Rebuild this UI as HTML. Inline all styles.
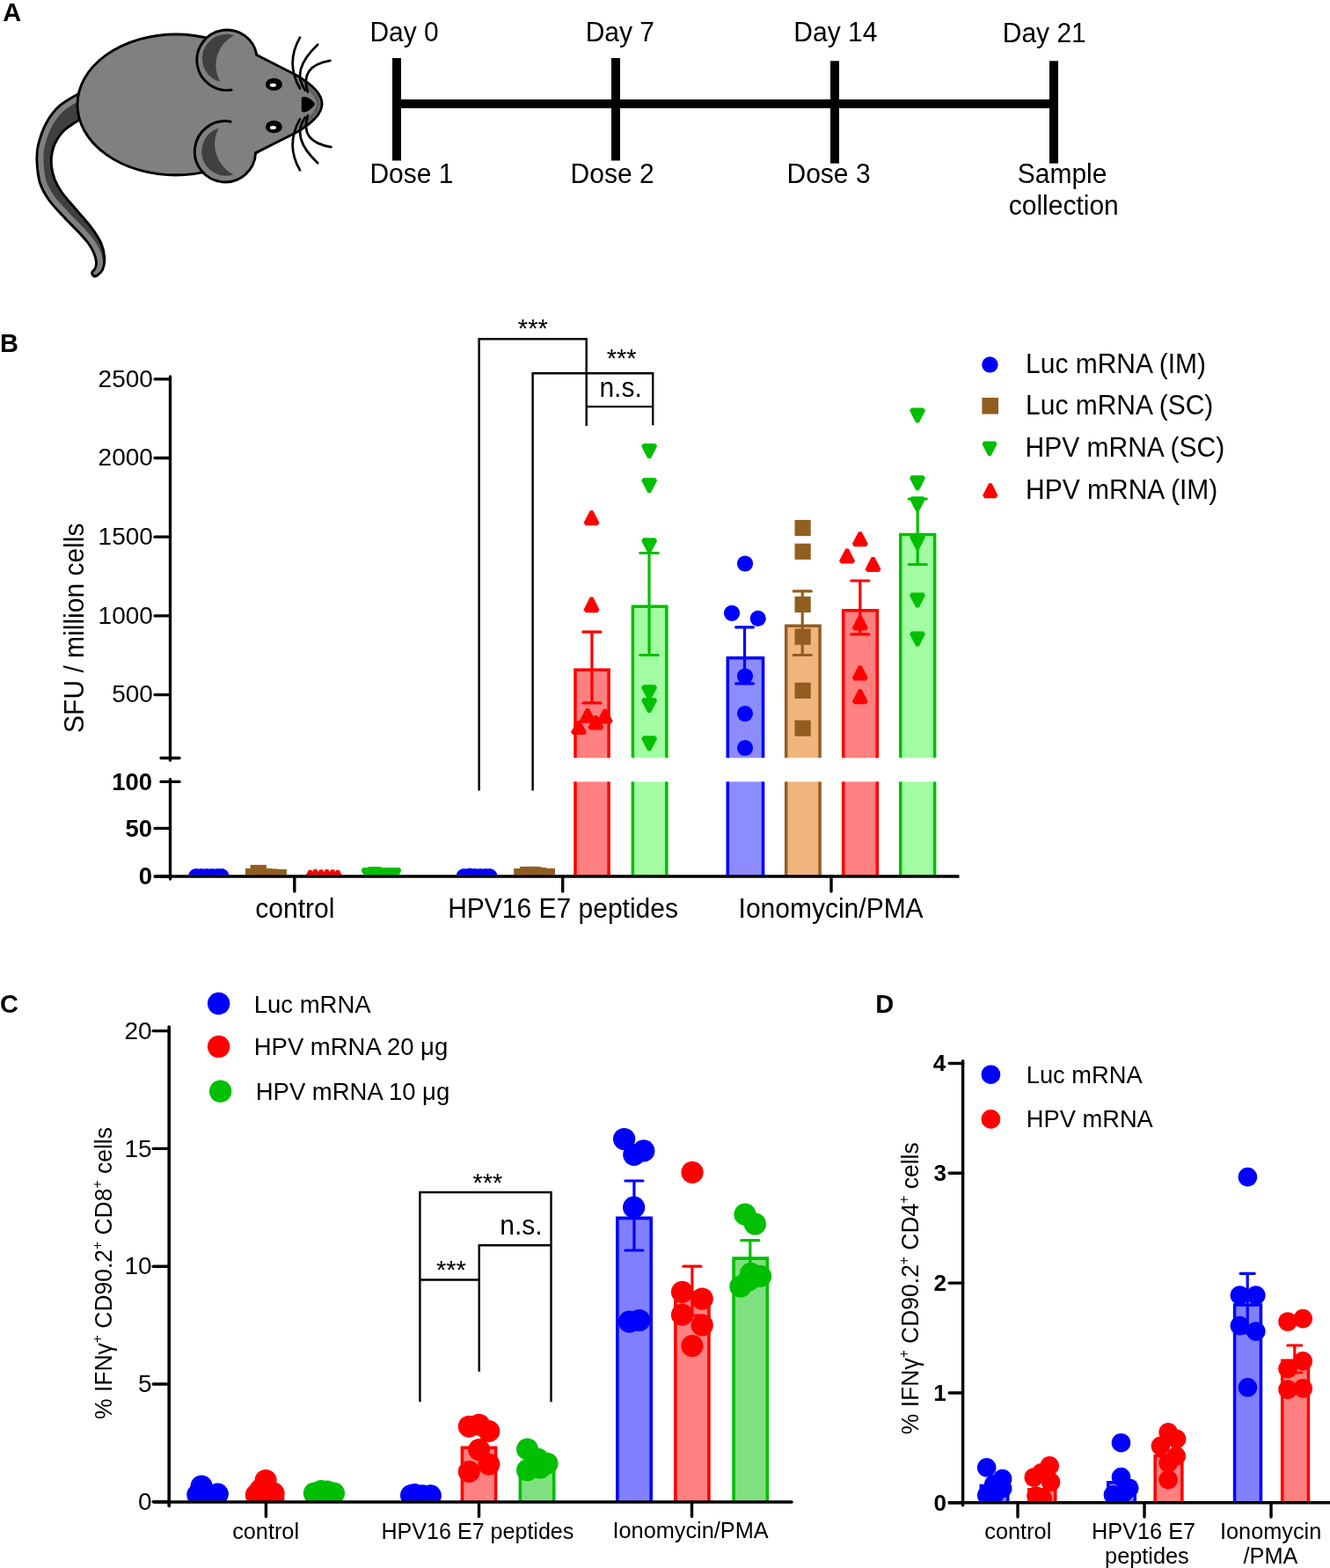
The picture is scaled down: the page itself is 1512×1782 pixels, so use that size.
<!DOCTYPE html>
<html><head><meta charset="utf-8"><style>
html,body{margin:0;padding:0;background:#fff;}
svg{display:block;}
text{font-family:"Liberation Sans", Arial, sans-serif;}
</style></head><body>
<svg width="1512" height="1782" viewBox="0 0 1512 1782">
<rect width="1512" height="1782" fill="#fff"/>
<text transform="matrix(1,0,0,1.015,0,-0.358)" x="3.28" y="23.90" font-size="29" font-weight="bold" fill="#000">A</text>
<g id="mouse">
<clipPath id="tclip"><path d="M92.00,105.00 C88.12,107.40 75.17,113.78 68.70,119.40 C62.23,125.02 57.40,131.18 53.20,138.70 C49.00,146.22 45.37,156.97 43.50,164.50 C41.63,172.03 41.67,176.65 42.00,183.90 C42.33,191.15 43.20,200.73 45.50,208.00 C47.80,215.27 51.28,221.08 55.80,227.50 C60.32,233.92 67.22,240.67 72.60,246.50 C77.98,252.33 83.53,257.58 88.10,262.50 C92.67,267.42 96.93,271.92 100.00,276.00 C103.07,280.08 104.92,283.33 106.50,287.00 C108.08,290.67 109.22,295.00 109.50,298.00 C109.78,301.00 109.02,303.03 108.20,305.00 C107.38,306.97 104.87,308.37 104.60,309.80 C104.33,311.23 105.62,313.07 106.60,313.60 C107.58,314.13 108.83,314.18 110.50,313.00 C112.17,311.82 115.22,309.85 116.60,306.50 C117.98,303.15 119.10,297.97 118.80,292.90 C118.50,287.83 117.33,281.87 114.80,276.10 C112.27,270.33 108.23,264.55 103.60,258.30 C98.97,252.05 92.52,245.15 87.00,238.60 C81.48,232.05 74.63,224.77 70.50,219.00 C66.37,213.23 64.17,208.83 62.20,204.00 C60.23,199.17 59.30,194.43 58.70,190.00 C58.10,185.57 58.00,181.82 58.60,177.40 C59.20,172.98 59.97,168.32 62.30,163.50 C64.63,158.68 67.65,153.25 72.60,148.50 C77.55,143.75 88.77,137.25 92.00,135.00 Z"/></clipPath>
<path d="M92.00,105.00 C88.12,107.40 75.17,113.78 68.70,119.40 C62.23,125.02 57.40,131.18 53.20,138.70 C49.00,146.22 45.37,156.97 43.50,164.50 C41.63,172.03 41.67,176.65 42.00,183.90 C42.33,191.15 43.20,200.73 45.50,208.00 C47.80,215.27 51.28,221.08 55.80,227.50 C60.32,233.92 67.22,240.67 72.60,246.50 C77.98,252.33 83.53,257.58 88.10,262.50 C92.67,267.42 96.93,271.92 100.00,276.00 C103.07,280.08 104.92,283.33 106.50,287.00 C108.08,290.67 109.22,295.00 109.50,298.00 C109.78,301.00 109.02,303.03 108.20,305.00 C107.38,306.97 104.87,308.37 104.60,309.80 C104.33,311.23 105.62,313.07 106.60,313.60 C107.58,314.13 108.83,314.18 110.50,313.00 C112.17,311.82 115.22,309.85 116.60,306.50 C117.98,303.15 119.10,297.97 118.80,292.90 C118.50,287.83 117.33,281.87 114.80,276.10 C112.27,270.33 108.23,264.55 103.60,258.30 C98.97,252.05 92.52,245.15 87.00,238.60 C81.48,232.05 74.63,224.77 70.50,219.00 C66.37,213.23 64.17,208.83 62.20,204.00 C60.23,199.17 59.30,194.43 58.70,190.00 C58.10,185.57 58.00,181.82 58.60,177.40 C59.20,172.98 59.97,168.32 62.30,163.50 C64.63,158.68 67.65,153.25 72.60,148.50 C77.55,143.75 88.77,137.25 92.00,135.00 Z" fill="#404040"/>
<path d="M92.00,105.00 C88.12,107.40 75.17,113.78 68.70,119.40 C62.23,125.02 57.40,131.18 53.20,138.70 C49.00,146.22 45.37,156.97 43.50,164.50 C41.63,172.03 41.67,176.65 42.00,183.90 C42.33,191.15 43.20,200.73 45.50,208.00 C47.80,215.27 51.28,221.08 55.80,227.50 C60.32,233.92 67.22,240.67 72.60,246.50 C77.98,252.33 83.53,257.58 88.10,262.50 C92.67,267.42 96.93,271.92 100.00,276.00 C103.07,280.08 104.92,283.33 106.50,287.00 C108.08,290.67 109.22,295.00 109.50,298.00 C109.78,301.00 109.02,303.03 108.20,305.00 C107.38,306.97 105.20,309.00 104.60,309.80" fill="none" stroke="#808080" stroke-width="15" clip-path="url(#tclip)"/>
<path d="M92.00,105.00 C88.12,107.40 75.17,113.78 68.70,119.40 C62.23,125.02 57.40,131.18 53.20,138.70 C49.00,146.22 45.37,156.97 43.50,164.50 C41.63,172.03 41.67,176.65 42.00,183.90 C42.33,191.15 43.20,200.73 45.50,208.00 C47.80,215.27 51.28,221.08 55.80,227.50 C60.32,233.92 67.22,240.67 72.60,246.50 C77.98,252.33 83.53,257.58 88.10,262.50 C92.67,267.42 96.93,271.92 100.00,276.00 C103.07,280.08 104.92,283.33 106.50,287.00 C108.08,290.67 109.22,295.00 109.50,298.00 C109.78,301.00 109.02,303.03 108.20,305.00 C107.38,306.97 104.87,308.37 104.60,309.80 C104.33,311.23 105.62,313.07 106.60,313.60 C107.58,314.13 108.83,314.18 110.50,313.00 C112.17,311.82 115.22,309.85 116.60,306.50 C117.98,303.15 119.10,297.97 118.80,292.90 C118.50,287.83 117.33,281.87 114.80,276.10 C112.27,270.33 108.23,264.55 103.60,258.30 C98.97,252.05 92.52,245.15 87.00,238.60 C81.48,232.05 74.63,224.77 70.50,219.00 C66.37,213.23 64.17,208.83 62.20,204.00 C60.23,199.17 59.30,194.43 58.70,190.00 C58.10,185.57 58.00,181.82 58.60,177.40 C59.20,172.98 59.97,168.32 62.30,163.50 C64.63,158.68 67.65,153.25 72.60,148.50 C77.55,143.75 88.77,137.25 92.00,135.00 Z" fill="none" stroke="#000" stroke-width="2.9" stroke-linejoin="round"/>
<ellipse cx="200" cy="119" rx="112" ry="80" fill="#808080" stroke="#000" stroke-width="2.9"/>
<path d="M255,62 L292.5,63.3 L336,85 C350,93 366,105 366,118 C366,131 350,143 336,151 L291.5,175.5 L255,176 Z" fill="#808080"/>
<path d="M343,93.5 C353,100 361.5,110 361.7,118 C361.5,126 353,136 343,142.5" fill="none" stroke="#5e5e5e" stroke-width="4"/>
<circle cx="258" cy="68.2" r="34.2" fill="#808080"/>
<path d="M266,40.2 A27.60,27.60 0 1,0 250.30,93.10 A38.42,38.42 0 0,1 266.00,40.20 Z" fill="#404040"/>
<path d="M263,102.2 A34.29,34.29 0 1,1 291.90,62.50" fill="none" stroke="#000" stroke-width="2.9" stroke-linecap="round"/>
<circle cx="255.5" cy="172.3" r="34.2" fill="#808080"/>
<path d="M265.5,198.5 A27.81,27.81 0 1,1 248.60,145.50 A39.02,39.02 0 0,0 265.50,198.50 Z" fill="#404040"/>
<path d="M262.2,138.2 A34.66,34.66 0 1,0 290.60,173.70" fill="none" stroke="#000" stroke-width="2.9" stroke-linecap="round"/>
<path d="M291.9,62.5 L336,85 C350,93 366,105 366,118 C366,131 350,143 336,151 L290.6,173.7" fill="none" stroke="#000" stroke-width="2.9" stroke-linejoin="round" stroke-linecap="round"/>
<ellipse cx="311.4" cy="95.9" rx="9.5" ry="7.2" fill="#000"/>
<ellipse cx="310.4" cy="96.7" rx="3.6" ry="2.0" fill="#fff"/>
<ellipse cx="311.4" cy="144.1" rx="9.5" ry="7.2" fill="#000"/>
<ellipse cx="310.4" cy="144.9" rx="3.6" ry="2.0" fill="#fff"/>
<path d="M342.8,112 C342.8,110.5 344,110 345.5,110 C350,110 354,113 356.8,116 C358.2,117.5 358.2,119 356.8,120.5 C354,123.5 350,127.4 345.5,127.4 C344,127.4 342.8,126.9 342.8,125.4 Z" fill="#000"/>
<path d="M341,42.6 Q324.3,71.4 341,100.7" fill="none" stroke="#000" stroke-width="2.7" stroke-linecap="round"/>
<path d="M361.2,50.7 Q330,80 347,102.7" fill="none" stroke="#000" stroke-width="2.7" stroke-linecap="round"/>
<path d="M375.4,68.9 Q340,75 350,104.7" fill="none" stroke="#000" stroke-width="2.7" stroke-linecap="round"/>
<path d="M341,193.4 Q324.3,164.6 341,135.3" fill="none" stroke="#000" stroke-width="2.7" stroke-linecap="round"/>
<path d="M361.2,185.3 Q330,156 347,133.3" fill="none" stroke="#000" stroke-width="2.7" stroke-linecap="round"/>
<path d="M376.4,167.1 Q340,161 350,131.3" fill="none" stroke="#000" stroke-width="2.7" stroke-linecap="round"/>
</g>
<rect x="446" y="113" width="757" height="10" fill="#000"/>
<rect x="446" y="66" width="10" height="116.5" fill="#000"/>
<rect x="695" y="66" width="10" height="116.5" fill="#000"/>
<rect x="944" y="69.3" width="10" height="116.39999999999999" fill="#000"/>
<rect x="1193" y="69.3" width="10" height="116.39999999999999" fill="#000"/>
<text transform="matrix(1,0,0,1.015,0,-0.708)" x="420.44" y="47.20" font-size="30" fill="#000">Day 0</text>
<text transform="matrix(1,0,0,1.015,0,-0.711)" x="665.64" y="47.40" font-size="30" fill="#000">Day 7</text>
<text transform="matrix(1,0,0,1.015,0,-0.711)" x="902.34" y="47.40" font-size="30" fill="#000">Day 14</text>
<text transform="matrix(1,0,0,1.015,0,-0.714)" x="1139.74" y="47.60" font-size="30" fill="#000">Day 21</text>
<text transform="matrix(1,0,0,1.015,0,-3.118)" x="420.44" y="207.90" font-size="30" fill="#000">Dose 1</text>
<text transform="matrix(1,0,0,1.015,0,-3.121)" x="648.54" y="208.10" font-size="30" fill="#000">Dose 2</text>
<text transform="matrix(1,0,0,1.015,0,-3.121)" x="894.54" y="208.10" font-size="30" fill="#000">Dose 3</text>
<text transform="matrix(1,0,0,1.015,0,-3.120)" x="1156.74" y="208.00" font-size="30" fill="#000">Sample</text>
<text transform="matrix(1,0,0,1.015,0,-3.664)" x="1146.73" y="244.30" font-size="30" fill="#000">collection</text>
<text transform="matrix(1,0,0,1.015,0,-6.003)" x="0.06" y="400.20" font-size="29" font-weight="bold" fill="#000">B</text>
<line x1="193.50" y1="427.80" x2="193.50" y2="864.20" stroke="#000" stroke-width="3.3" stroke-linecap="round"/>
<line x1="176.00" y1="430.80" x2="193.50" y2="430.80" stroke="#000" stroke-width="3.3" stroke-linecap="round"/>
<text transform="matrix(1,0,0,1.015,0,-6.595)" x="111.60" y="439.70" font-size="28" fill="#000">2500</text>
<line x1="176.00" y1="520.50" x2="193.50" y2="520.50" stroke="#000" stroke-width="3.3" stroke-linecap="round"/>
<text transform="matrix(1,0,0,1.015,0,-7.941)" x="111.60" y="529.40" font-size="28" fill="#000">2000</text>
<line x1="176.00" y1="610.20" x2="193.50" y2="610.20" stroke="#000" stroke-width="3.3" stroke-linecap="round"/>
<text transform="matrix(1,0,0,1.015,0,-9.286)" x="111.60" y="619.10" font-size="28" fill="#000">1500</text>
<line x1="176.00" y1="699.90" x2="193.50" y2="699.90" stroke="#000" stroke-width="3.3" stroke-linecap="round"/>
<text transform="matrix(1,0,0,1.015,0,-10.632)" x="111.60" y="708.80" font-size="28" fill="#000">1000</text>
<line x1="176.00" y1="789.60" x2="193.50" y2="789.60" stroke="#000" stroke-width="3.3" stroke-linecap="round"/>
<text transform="matrix(1,0,0,1.015,0,-11.977)" x="127.18" y="798.50" font-size="28" fill="#000">500</text>
<line x1="183.00" y1="861.50" x2="204.00" y2="861.50" stroke="#000" stroke-width="3.3" stroke-linecap="round"/>
<line x1="193.50" y1="885.60" x2="193.50" y2="999.00" stroke="#000" stroke-width="3.3" stroke-linecap="round"/>
<line x1="183.00" y1="888.40" x2="204.00" y2="888.40" stroke="#000" stroke-width="3.3" stroke-linecap="round"/>
<text transform="matrix(1,0,0,1.015,0,-13.465)" x="127.25" y="897.70" font-size="27.5" font-weight="bold" fill="#000">100</text>
<line x1="176.00" y1="941.40" x2="193.50" y2="941.40" stroke="#000" stroke-width="3.3" stroke-linecap="round"/>
<text transform="matrix(1,0,0,1.015,0,-14.260)" x="142.54" y="950.70" font-size="27.5" font-weight="bold" fill="#000">50</text>
<line x1="176.00" y1="996.00" x2="193.50" y2="996.00" stroke="#000" stroke-width="3.3" stroke-linecap="round"/>
<text transform="matrix(1,0,0,1.015,0,-15.079)" x="157.83" y="1005.30" font-size="27.5" font-weight="bold" fill="#000">0</text>
<text transform="translate(95.2,713.75) rotate(-90) scale(1,1.015)" x="0" y="0" font-size="30" text-anchor="middle">SFU / million cells</text>
<rect x="653.95" y="761.15" width="38.10" height="100.15" fill="#FF8080"/>
<path d="M653.95,861.3 V761.15 H692.05 V861.3" stroke="#FF0000" stroke-width="3.5" fill="none" stroke-linecap="butt" stroke-linejoin="miter"/>
<rect x="653.95" y="888.4" width="38.10" height="107.60" fill="#FF8080"/>
<line x1="653.95" y1="888.40" x2="653.95" y2="996.00" stroke="#FF0000" stroke-width="3.5" stroke-linecap="butt"/>
<line x1="692.05" y1="888.40" x2="692.05" y2="996.00" stroke="#FF0000" stroke-width="3.5" stroke-linecap="butt"/>
<rect x="719.35" y="689.15" width="38.50" height="172.15" fill="#A2FDA2"/>
<path d="M719.35,861.3 V689.15 H757.85 V861.3" stroke="#00BF00" stroke-width="3.5" fill="none" stroke-linecap="butt" stroke-linejoin="miter"/>
<rect x="719.35" y="888.4" width="38.50" height="107.60" fill="#A2FDA2"/>
<line x1="719.35" y1="888.40" x2="719.35" y2="996.00" stroke="#00BF00" stroke-width="3.5" stroke-linecap="butt"/>
<line x1="757.85" y1="888.40" x2="757.85" y2="996.00" stroke="#00BF00" stroke-width="3.5" stroke-linecap="butt"/>
<rect x="827.25" y="747.75" width="40.30" height="113.55" fill="#8C8CFF"/>
<path d="M827.25,861.3 V747.75 H867.55 V861.3" stroke="#0000FF" stroke-width="3.5" fill="none" stroke-linecap="butt" stroke-linejoin="miter"/>
<rect x="827.25" y="888.4" width="40.30" height="107.60" fill="#8C8CFF"/>
<line x1="827.25" y1="888.40" x2="827.25" y2="996.00" stroke="#0000FF" stroke-width="3.5" stroke-linecap="butt"/>
<line x1="867.55" y1="888.40" x2="867.55" y2="996.00" stroke="#0000FF" stroke-width="3.5" stroke-linecap="butt"/>
<rect x="893.65" y="711.35" width="38.40" height="149.95" fill="#F0B57D"/>
<path d="M893.65,861.3 V711.35 H932.05 V861.3" stroke="#915E20" stroke-width="3.5" fill="none" stroke-linecap="butt" stroke-linejoin="miter"/>
<rect x="893.65" y="888.4" width="38.40" height="107.60" fill="#F0B57D"/>
<line x1="893.65" y1="888.40" x2="893.65" y2="996.00" stroke="#915E20" stroke-width="3.5" stroke-linecap="butt"/>
<line x1="932.05" y1="888.40" x2="932.05" y2="996.00" stroke="#915E20" stroke-width="3.5" stroke-linecap="butt"/>
<rect x="958.65" y="693.75" width="38.60" height="167.55" fill="#FF8080"/>
<path d="M958.65,861.3 V693.75 H997.25 V861.3" stroke="#FF0000" stroke-width="3.5" fill="none" stroke-linecap="butt" stroke-linejoin="miter"/>
<rect x="958.65" y="888.4" width="38.60" height="107.60" fill="#FF8080"/>
<line x1="958.65" y1="888.40" x2="958.65" y2="996.00" stroke="#FF0000" stroke-width="3.5" stroke-linecap="butt"/>
<line x1="997.25" y1="888.40" x2="997.25" y2="996.00" stroke="#FF0000" stroke-width="3.5" stroke-linecap="butt"/>
<rect x="1023.75" y="607.45" width="38.90" height="253.85" fill="#A2FDA2"/>
<path d="M1023.75,861.3 V607.45 H1062.65 V861.3" stroke="#00BF00" stroke-width="3.5" fill="none" stroke-linecap="butt" stroke-linejoin="miter"/>
<rect x="1023.75" y="888.4" width="38.90" height="107.60" fill="#A2FDA2"/>
<line x1="1023.75" y1="888.40" x2="1023.75" y2="996.00" stroke="#00BF00" stroke-width="3.5" stroke-linecap="butt"/>
<line x1="1062.65" y1="888.40" x2="1062.65" y2="996.00" stroke="#00BF00" stroke-width="3.5" stroke-linecap="butt"/>
<line x1="672.90" y1="718.20" x2="672.90" y2="798.90" stroke="#FF0000" stroke-width="3.2" stroke-linecap="butt"/>
<line x1="662.90" y1="718.20" x2="682.90" y2="718.20" stroke="#FF0000" stroke-width="3.2" stroke-linecap="round"/>
<line x1="662.90" y1="798.90" x2="682.90" y2="798.90" stroke="#FF0000" stroke-width="3.2" stroke-linecap="round"/>
<line x1="738.00" y1="628.50" x2="738.00" y2="744.50" stroke="#00BF00" stroke-width="3.2" stroke-linecap="butt"/>
<line x1="727.75" y1="628.50" x2="748.25" y2="628.50" stroke="#00BF00" stroke-width="3.2" stroke-linecap="round"/>
<line x1="727.75" y1="744.50" x2="748.25" y2="744.50" stroke="#00BF00" stroke-width="3.2" stroke-linecap="round"/>
<line x1="846.50" y1="712.80" x2="846.50" y2="776.80" stroke="#0000FF" stroke-width="3.2" stroke-linecap="butt"/>
<line x1="836.50" y1="712.80" x2="856.50" y2="712.80" stroke="#0000FF" stroke-width="3.2" stroke-linecap="round"/>
<line x1="836.50" y1="776.80" x2="856.50" y2="776.80" stroke="#0000FF" stroke-width="3.2" stroke-linecap="round"/>
<line x1="912.20" y1="671.90" x2="912.20" y2="744.50" stroke="#915E20" stroke-width="3.2" stroke-linecap="butt"/>
<line x1="902.20" y1="671.90" x2="922.20" y2="671.90" stroke="#915E20" stroke-width="3.2" stroke-linecap="round"/>
<line x1="902.20" y1="744.50" x2="922.20" y2="744.50" stroke="#915E20" stroke-width="3.2" stroke-linecap="round"/>
<line x1="977.80" y1="660.00" x2="977.80" y2="720.80" stroke="#FF0000" stroke-width="3.2" stroke-linecap="butt"/>
<line x1="967.80" y1="660.00" x2="987.80" y2="660.00" stroke="#FF0000" stroke-width="3.2" stroke-linecap="round"/>
<line x1="967.80" y1="720.80" x2="987.80" y2="720.80" stroke="#FF0000" stroke-width="3.2" stroke-linecap="round"/>
<line x1="1043.20" y1="567.00" x2="1043.20" y2="641.50" stroke="#00BF00" stroke-width="3.2" stroke-linecap="butt"/>
<line x1="1033.20" y1="567.00" x2="1053.20" y2="567.00" stroke="#00BF00" stroke-width="3.2" stroke-linecap="round"/>
<line x1="1033.20" y1="641.50" x2="1053.20" y2="641.50" stroke="#00BF00" stroke-width="3.2" stroke-linecap="round"/>
<clipPath id="clipB"><rect x="196" y="300" width="1000" height="694.3"/></clipPath>
<g clip-path="url(#clipB)">
<circle cx="223.00" cy="996.00" r="9" fill="#0000FF"/>
<circle cx="229.00" cy="996.00" r="9" fill="#0000FF"/>
<circle cx="235.00" cy="996.00" r="9" fill="#0000FF"/>
<circle cx="241.00" cy="996.00" r="9" fill="#0000FF"/>
<circle cx="247.00" cy="996.00" r="9" fill="#0000FF"/>
<circle cx="251.70" cy="996.00" r="9" fill="#0000FF"/>
<rect x="284.60" y="982.90" width="18.2" height="18.2" fill="#915E20"/>
<rect x="278.90" y="986.90" width="18.2" height="18.2" fill="#915E20"/>
<rect x="290.90" y="986.90" width="18.2" height="18.2" fill="#915E20"/>
<rect x="296.90" y="987.40" width="18.2" height="18.2" fill="#915E20"/>
<rect x="302.90" y="987.90" width="18.2" height="18.2" fill="#915E20"/>
<rect x="307.70" y="987.90" width="18.2" height="18.2" fill="#915E20"/>
<path d="M350.75,988.80 L354.25,988.80 L361.50,1002.69 L359.30,1005.80 L345.70,1005.80 L343.50,1002.69 Z" fill="#FF0000"/>
<path d="M356.75,987.80 L360.25,987.80 L367.50,1001.69 L365.30,1004.80 L351.70,1004.80 L349.50,1001.69 Z" fill="#FF0000"/>
<path d="M363.25,988.30 L366.75,988.30 L374.00,1002.19 L371.80,1005.30 L358.20,1005.30 L356.00,1002.19 Z" fill="#FF0000"/>
<path d="M369.75,987.90 L373.25,987.90 L380.50,1001.79 L378.30,1004.90 L364.70,1004.90 L362.50,1001.79 Z" fill="#FF0000"/>
<path d="M376.25,988.20 L379.75,988.20 L387.00,1002.09 L384.80,1005.20 L371.20,1005.20 L369.00,1002.09 Z" fill="#FF0000"/>
<path d="M382.25,988.80 L385.75,988.80 L393.00,1002.69 L390.80,1005.80 L377.20,1005.80 L375.00,1002.69 Z" fill="#FF0000"/>
<path d="M417.75,1003.00 L421.25,1003.00 L428.50,989.11 L426.30,986.00 L412.70,986.00 L410.50,989.11 Z" fill="#00BF00"/>
<path d="M424.25,1002.00 L427.75,1002.00 L435.00,988.11 L432.80,985.00 L419.20,985.00 L417.00,988.11 Z" fill="#00BF00"/>
<path d="M430.25,1003.00 L433.75,1003.00 L441.00,989.11 L438.80,986.00 L425.20,986.00 L423.00,989.11 Z" fill="#00BF00"/>
<path d="M436.25,1003.00 L439.75,1003.00 L447.00,989.11 L444.80,986.00 L431.20,986.00 L429.00,989.11 Z" fill="#00BF00"/>
<path d="M442.25,1003.00 L445.75,1003.00 L453.00,989.11 L450.80,986.00 L437.20,986.00 L435.00,989.11 Z" fill="#00BF00"/>
<path d="M445.75,1003.00 L449.25,1003.00 L456.50,989.11 L454.30,986.00 L440.70,986.00 L438.50,989.11 Z" fill="#00BF00"/>
<circle cx="527.50" cy="996.00" r="9" fill="#0000FF"/>
<circle cx="534.00" cy="995.50" r="9" fill="#0000FF"/>
<circle cx="540.00" cy="996.00" r="9" fill="#0000FF"/>
<circle cx="546.00" cy="996.00" r="9" fill="#0000FF"/>
<circle cx="552.00" cy="996.00" r="9" fill="#0000FF"/>
<circle cx="556.60" cy="996.00" r="9" fill="#0000FF"/>
<rect x="584.10" y="986.90" width="18.2" height="18.2" fill="#915E20"/>
<rect x="590.90" y="984.90" width="18.2" height="18.2" fill="#915E20"/>
<rect x="596.90" y="984.90" width="18.2" height="18.2" fill="#915E20"/>
<rect x="602.90" y="985.90" width="18.2" height="18.2" fill="#915E20"/>
<rect x="608.90" y="986.90" width="18.2" height="18.2" fill="#915E20"/>
<rect x="612.80" y="986.90" width="18.2" height="18.2" fill="#915E20"/>
<path d="M670.75,580.20 L674.25,580.20 L681.50,594.17 L679.30,597.30 L665.70,597.30 L663.50,594.17 Z" fill="#FF0000"/>
<path d="M670.75,678.60 L674.25,678.60 L681.50,693.06 L679.30,696.30 L665.70,696.30 L663.50,693.06 Z" fill="#FF0000"/>
<path d="M666.15,804.90 L669.65,804.90 L676.90,818.63 L674.70,821.70 L661.10,821.70 L658.90,818.63 Z" fill="#FF0000"/>
<path d="M685.95,805.80 L689.45,805.80 L696.70,819.53 L694.50,822.60 L680.90,822.60 L678.70,819.53 Z" fill="#FF0000"/>
<path d="M675.65,813.10 L679.15,813.10 L686.40,826.42 L684.20,829.40 L670.60,829.40 L668.40,826.42 Z" fill="#FF0000"/>
<path d="M656.25,819.10 L659.75,819.10 L667.00,832.09 L664.80,835.00 L651.20,835.00 L649.00,832.09 Z" fill="#FF0000"/>
<path d="M736.35,520.90 L739.85,520.90 L747.10,507.01 L744.90,503.90 L731.30,503.90 L729.10,507.01 Z" fill="#00BF00"/>
<path d="M736.35,560.00 L739.85,560.00 L747.10,546.11 L744.90,543.00 L731.30,543.00 L729.10,546.11 Z" fill="#00BF00"/>
<path d="M736.35,628.30 L739.85,628.30 L747.10,614.41 L744.90,611.30 L731.30,611.30 L729.10,614.41 Z" fill="#00BF00"/>
<path d="M736.35,795.30 L739.85,795.30 L747.10,781.41 L744.90,778.30 L731.30,778.30 L729.10,781.41 Z" fill="#00BF00"/>
<path d="M736.35,809.90 L739.85,809.90 L747.10,796.01 L744.90,792.90 L731.30,792.90 L729.10,796.01 Z" fill="#00BF00"/>
<path d="M736.35,853.30 L739.85,853.30 L747.10,839.41 L744.90,836.30 L731.30,836.30 L729.10,839.41 Z" fill="#00BF00"/>
<circle cx="847.00" cy="640.50" r="9.1" fill="#0000FF"/>
<circle cx="832.00" cy="696.80" r="9.1" fill="#0000FF"/>
<circle cx="861.70" cy="702.90" r="9.1" fill="#0000FF"/>
<circle cx="847.00" cy="768.50" r="9.1" fill="#0000FF"/>
<circle cx="847.00" cy="811.00" r="9.1" fill="#0000FF"/>
<circle cx="847.00" cy="850.00" r="9.1" fill="#0000FF"/>
<rect x="903.50" y="590.90" width="18.2" height="18.2" fill="#915E20"/>
<rect x="903.50" y="617.70" width="18.2" height="18.2" fill="#915E20"/>
<rect x="903.50" y="677.90" width="18.2" height="18.2" fill="#915E20"/>
<rect x="903.50" y="714.60" width="18.2" height="18.2" fill="#915E20"/>
<rect x="903.50" y="775.70" width="18.2" height="18.2" fill="#915E20"/>
<rect x="903.50" y="818.50" width="18.2" height="18.2" fill="#915E20"/>
<path d="M976.05,604.20 L979.55,604.20 L986.80,618.09 L984.60,621.20 L971.00,621.20 L968.80,618.09 Z" fill="#FF0000"/>
<path d="M961.25,623.50 L964.75,623.50 L972.00,637.39 L969.80,640.50 L956.20,640.50 L954.00,637.39 Z" fill="#FF0000"/>
<path d="M990.75,633.00 L994.25,633.00 L1001.50,646.89 L999.30,650.00 L985.70,650.00 L983.50,646.89 Z" fill="#FF0000"/>
<path d="M976.05,699.50 L979.55,699.50 L986.80,713.39 L984.60,716.50 L971.00,716.50 L968.80,713.39 Z" fill="#FF0000"/>
<path d="M976.05,756.50 L979.55,756.50 L986.80,770.39 L984.60,773.50 L971.00,773.50 L968.80,770.39 Z" fill="#FF0000"/>
<path d="M976.05,783.30 L979.55,783.30 L986.80,797.19 L984.60,800.30 L971.00,800.30 L968.80,797.19 Z" fill="#FF0000"/>
<path d="M1041.25,480.50 L1044.75,480.50 L1052.00,466.61 L1049.80,463.50 L1036.20,463.50 L1034.00,466.61 Z" fill="#00BF00"/>
<path d="M1041.25,557.20 L1044.75,557.20 L1052.00,543.31 L1049.80,540.20 L1036.20,540.20 L1034.00,543.31 Z" fill="#00BF00"/>
<path d="M1041.25,581.20 L1044.75,581.20 L1052.00,567.31 L1049.80,564.20 L1036.20,564.20 L1034.00,567.31 Z" fill="#00BF00"/>
<path d="M1041.25,624.50 L1044.75,624.50 L1052.00,610.61 L1049.80,607.50 L1036.20,607.50 L1034.00,610.61 Z" fill="#00BF00"/>
<path d="M1041.25,690.50 L1044.75,690.50 L1052.00,676.61 L1049.80,673.50 L1036.20,673.50 L1034.00,676.61 Z" fill="#00BF00"/>
<path d="M1041.25,734.50 L1044.75,734.50 L1052.00,720.61 L1049.80,717.50 L1036.20,717.50 L1034.00,720.61 Z" fill="#00BF00"/>
</g>
<line x1="176.00" y1="996.00" x2="1090.50" y2="996.00" stroke="#000" stroke-width="3.4" stroke-linecap="butt"/>
<line x1="334.80" y1="996.00" x2="334.80" y2="1013.00" stroke="#000" stroke-width="3.4" stroke-linecap="round"/>
<line x1="639.70" y1="996.00" x2="639.70" y2="1013.00" stroke="#000" stroke-width="3.4" stroke-linecap="round"/>
<line x1="945.00" y1="996.00" x2="945.00" y2="1013.00" stroke="#000" stroke-width="3.4" stroke-linecap="round"/>
<text transform="matrix(1,0,0,1.015,0,-15.643)" x="290.34" y="1042.90" font-size="30" fill="#000">control</text>
<text transform="matrix(1,0,0,1.015,0,-15.643)" x="509.19" y="1042.90" font-size="30" fill="#000">HPV16 E7 peptides</text>
<text transform="matrix(1,0,0,1.015,0,-15.643)" x="839.61" y="1042.90" font-size="30" fill="#000">Ionomycin/PMA</text>
<path d="M544.6,898.4 V385.3 H666.7 V484.1" stroke="#000" stroke-width="2.4" fill="none" stroke-linecap="butt" stroke-linejoin="miter"/>
<path d="M605.6,898.4 V424.3 H742.2 V483.3" stroke="#000" stroke-width="2.4" fill="none" stroke-linecap="butt" stroke-linejoin="miter"/>
<line x1="666.70" y1="462.10" x2="742.20" y2="462.10" stroke="#000" stroke-width="2.4" stroke-linecap="butt"/>
<text transform="matrix(1,0,0,1.015,0,-5.743)" x="588.86" y="382.90" font-size="29" fill="#000">***</text>
<text transform="matrix(1,0,0,1.015,0,-6.252)" x="689.76" y="416.80" font-size="29" fill="#000">***</text>
<text transform="matrix(1,0,0,1.015,0,-6.759)" x="681.41" y="450.60" font-size="30" fill="#000">n.s.</text>
<circle cx="1125.40" cy="414.40" r="9.2" fill="#0000FF"/>
<rect x="1116.40" y="452.00" width="18.6" height="18.6" fill="#915E20"/>
<path d="M1123.33,518.00 L1126.67,518.00 L1133.60,504.52 L1131.50,501.50 L1118.50,501.50 L1116.40,504.52 Z" fill="#00BF00"/>
<path d="M1124.13,549.20 L1127.47,549.20 L1134.40,563.09 L1132.30,566.20 L1119.30,566.20 L1117.20,563.09 Z" fill="#FF0000"/>
<text transform="matrix(1,0,0,1.015,0,-6.361)" x="1166.04" y="424.10" font-size="30" fill="#000">Luc mRNA (IM)</text>
<text transform="matrix(1,0,0,1.015,0,-7.065)" x="1166.04" y="471.00" font-size="30" fill="#000">Luc mRNA (SC)</text>
<text transform="matrix(1,0,0,1.015,0,-7.791)" x="1165.54" y="519.40" font-size="30" fill="#000">HPV mRNA (SC)</text>
<text transform="matrix(1,0,0,1.015,0,-8.499)" x="1166.04" y="566.60" font-size="30" fill="#000">HPV mRNA (IM)</text>
<text transform="matrix(1,0,0,1.015,0,-17.269)" x="0.01" y="1151.30" font-size="29" font-weight="bold" fill="#000">C</text>
<line x1="192.20" y1="1167.10" x2="192.20" y2="1711.50" stroke="#000" stroke-width="3.6" stroke-linecap="round"/>
<line x1="174.20" y1="1171.60" x2="192.20" y2="1171.60" stroke="#000" stroke-width="3.4" stroke-linecap="round"/>
<text transform="matrix(1,0,0,1.015,0,-17.712)" x="141.45" y="1180.80" font-size="28" fill="#000">20</text>
<line x1="174.20" y1="1305.40" x2="192.20" y2="1305.40" stroke="#000" stroke-width="3.4" stroke-linecap="round"/>
<text transform="matrix(1,0,0,1.015,0,-19.719)" x="141.53" y="1314.60" font-size="28" fill="#000">15</text>
<line x1="174.20" y1="1439.20" x2="192.20" y2="1439.20" stroke="#000" stroke-width="3.4" stroke-linecap="round"/>
<text transform="matrix(1,0,0,1.015,0,-21.726)" x="141.45" y="1448.40" font-size="28" fill="#000">10</text>
<line x1="174.20" y1="1573.00" x2="192.20" y2="1573.00" stroke="#000" stroke-width="3.4" stroke-linecap="round"/>
<text transform="matrix(1,0,0,1.015,0,-23.733)" x="157.10" y="1582.20" font-size="28" fill="#000">5</text>
<line x1="174.20" y1="1706.80" x2="192.20" y2="1706.80" stroke="#000" stroke-width="3.4" stroke-linecap="round"/>
<text transform="matrix(1,0,0,1.015,0,-25.740)" x="157.02" y="1716.00" font-size="28" fill="#000">0</text>
<text transform="translate(127.0,1612.99) rotate(-90) scale(1,1.015)" x="0" y="0" font-size="26.5"><tspan dy="0">% IFNγ</tspan><tspan font-size="15.5" dy="-10.5">+</tspan><tspan dy="10.5"> CD90.2</tspan><tspan font-size="15.5" dy="-10.5">+</tspan><tspan dy="10.5"> CD8</tspan><tspan font-size="15.5" dy="-10.5">+</tspan><tspan dy="10.5"> cells</tspan></text>
<rect x="217.30" y="1699.30" width="38.40" height="7.50" fill="#8080FF"/>
<path d="M217.30,1706.8 V1699.30 H255.70 V1706.8" stroke="#0000FF" stroke-width="3.6" fill="none" stroke-linecap="butt" stroke-linejoin="miter"/>
<rect x="283.30" y="1698.80" width="38.20" height="8.00" fill="#FF8080"/>
<path d="M283.30,1706.8 V1698.80 H321.50 V1706.8" stroke="#FF0000" stroke-width="3.6" fill="none" stroke-linecap="butt" stroke-linejoin="miter"/>
<rect x="349.30" y="1698.80" width="38.20" height="8.00" fill="#80E080"/>
<path d="M349.30,1706.8 V1698.80 H387.50 V1706.8" stroke="#00BF00" stroke-width="3.6" fill="none" stroke-linecap="butt" stroke-linejoin="miter"/>
<rect x="458.80" y="1702.30" width="38.40" height="4.50" fill="#8080FF"/>
<path d="M458.80,1706.8 V1702.30 H497.20 V1706.8" stroke="#0000FF" stroke-width="3.6" fill="none" stroke-linecap="butt" stroke-linejoin="miter"/>
<rect x="525.40" y="1645.20" width="38.20" height="61.60" fill="#FF8080"/>
<path d="M525.40,1706.8 V1645.20 H563.60 V1706.8" stroke="#FF0000" stroke-width="3.6" fill="none" stroke-linecap="butt" stroke-linejoin="miter"/>
<rect x="591.40" y="1667.80" width="38.30" height="39.00" fill="#80E080"/>
<path d="M591.40,1706.8 V1667.80 H629.70 V1706.8" stroke="#00BF00" stroke-width="3.6" fill="none" stroke-linecap="butt" stroke-linejoin="miter"/>
<rect x="701.80" y="1384.40" width="38.40" height="322.40" fill="#8080FF"/>
<path d="M701.80,1706.8 V1384.40 H740.20 V1706.8" stroke="#0000FF" stroke-width="3.6" fill="none" stroke-linecap="butt" stroke-linejoin="miter"/>
<rect x="767.80" y="1468.80" width="38.10" height="238.00" fill="#FF8080"/>
<path d="M767.80,1706.8 V1468.80 H805.90 V1706.8" stroke="#FF0000" stroke-width="3.6" fill="none" stroke-linecap="butt" stroke-linejoin="miter"/>
<rect x="834.10" y="1430.10" width="38.20" height="276.70" fill="#80E080"/>
<path d="M834.10,1706.8 V1430.10 H872.30 V1706.8" stroke="#00BF00" stroke-width="3.6" fill="none" stroke-linecap="butt" stroke-linejoin="miter"/>
<line x1="720.90" y1="1342.00" x2="720.90" y2="1421.00" stroke="#0000FF" stroke-width="3.2" stroke-linecap="butt"/>
<line x1="710.90" y1="1342.00" x2="730.90" y2="1342.00" stroke="#0000FF" stroke-width="3.2" stroke-linecap="round"/>
<line x1="710.90" y1="1421.00" x2="730.90" y2="1421.00" stroke="#0000FF" stroke-width="3.2" stroke-linecap="round"/>
<line x1="786.90" y1="1439.20" x2="786.90" y2="1495.00" stroke="#FF0000" stroke-width="3.2" stroke-linecap="butt"/>
<line x1="776.90" y1="1439.20" x2="796.90" y2="1439.20" stroke="#FF0000" stroke-width="3.2" stroke-linecap="round"/>
<line x1="776.90" y1="1495.00" x2="796.90" y2="1495.00" stroke="#FF0000" stroke-width="3.2" stroke-linecap="round"/>
<line x1="852.80" y1="1409.70" x2="852.80" y2="1447.00" stroke="#00BF00" stroke-width="3.2" stroke-linecap="butt"/>
<line x1="842.80" y1="1409.70" x2="862.80" y2="1409.70" stroke="#00BF00" stroke-width="3.2" stroke-linecap="round"/>
<line x1="842.80" y1="1447.00" x2="862.80" y2="1447.00" stroke="#00BF00" stroke-width="3.2" stroke-linecap="round"/>
<clipPath id="clipC"><rect x="194" y="1150" width="720" height="555.2"/></clipPath>
<g clip-path="url(#clipC)">
<circle cx="224.70" cy="1698.80" r="12.5" fill="#0000FF"/>
<circle cx="247.40" cy="1698.00" r="12.5" fill="#0000FF"/>
<circle cx="229.10" cy="1688.90" r="12.5" fill="#0000FF"/>
<circle cx="237.00" cy="1700.00" r="12.5" fill="#0000FF"/>
<circle cx="291.20" cy="1699.00" r="12.5" fill="#FF0000"/>
<circle cx="296.00" cy="1693.00" r="12.5" fill="#FF0000"/>
<circle cx="302.10" cy="1682.40" r="12.5" fill="#FF0000"/>
<circle cx="303.00" cy="1692.20" r="12.5" fill="#FF0000"/>
<circle cx="311.00" cy="1697.00" r="12.5" fill="#FF0000"/>
<circle cx="306.00" cy="1701.00" r="12.5" fill="#FF0000"/>
<circle cx="357.30" cy="1697.00" r="12.5" fill="#00BF00"/>
<circle cx="365.00" cy="1694.40" r="12.5" fill="#00BF00"/>
<circle cx="372.00" cy="1695.00" r="12.5" fill="#00BF00"/>
<circle cx="379.50" cy="1697.00" r="12.5" fill="#00BF00"/>
<circle cx="370.00" cy="1699.00" r="12.5" fill="#00BF00"/>
<circle cx="467.50" cy="1699.50" r="12.5" fill="#0000FF"/>
<circle cx="471.20" cy="1698.50" r="12.5" fill="#0000FF"/>
<circle cx="480.40" cy="1699.80" r="12.5" fill="#0000FF"/>
<circle cx="489.40" cy="1699.80" r="12.5" fill="#0000FF"/>
<circle cx="478.00" cy="1701.00" r="12.5" fill="#0000FF"/>
<circle cx="533.30" cy="1621.20" r="12.5" fill="#FF0000"/>
<circle cx="544.60" cy="1619.20" r="12.5" fill="#FF0000"/>
<circle cx="555.80" cy="1626.50" r="12.5" fill="#FF0000"/>
<circle cx="544.60" cy="1647.60" r="12.5" fill="#FF0000"/>
<circle cx="555.80" cy="1664.20" r="12.5" fill="#FF0000"/>
<circle cx="533.30" cy="1672.50" r="12.5" fill="#FF0000"/>
<circle cx="599.50" cy="1647.00" r="12.5" fill="#00BF00"/>
<circle cx="611.40" cy="1658.20" r="12.5" fill="#00BF00"/>
<circle cx="622.00" cy="1663.20" r="12.5" fill="#00BF00"/>
<circle cx="614.00" cy="1668.10" r="12.5" fill="#00BF00"/>
<circle cx="599.50" cy="1670.80" r="12.5" fill="#00BF00"/>
<circle cx="709.60" cy="1294.50" r="12.6" fill="#0000FF"/>
<circle cx="720.80" cy="1312.30" r="12.6" fill="#0000FF"/>
<circle cx="731.80" cy="1307.90" r="12.6" fill="#0000FF"/>
<circle cx="720.60" cy="1372.10" r="12.6" fill="#0000FF"/>
<circle cx="715.40" cy="1502.10" r="12.6" fill="#0000FF"/>
<circle cx="726.70" cy="1500.50" r="12.6" fill="#0000FF"/>
<circle cx="787.00" cy="1332.40" r="12.6" fill="#FF0000"/>
<circle cx="775.50" cy="1468.30" r="12.6" fill="#FF0000"/>
<circle cx="798.20" cy="1476.10" r="12.6" fill="#FF0000"/>
<circle cx="775.50" cy="1494.20" r="12.6" fill="#FF0000"/>
<circle cx="798.20" cy="1506.00" r="12.6" fill="#FF0000"/>
<circle cx="786.90" cy="1529.60" r="12.6" fill="#FF0000"/>
<circle cx="847.00" cy="1380.20" r="12.6" fill="#00BF00"/>
<circle cx="858.40" cy="1391.00" r="12.6" fill="#00BF00"/>
<circle cx="853.50" cy="1447.30" r="12.6" fill="#00BF00"/>
<circle cx="864.60" cy="1450.30" r="12.6" fill="#00BF00"/>
<circle cx="841.90" cy="1462.00" r="12.6" fill="#00BF00"/>
<circle cx="851.00" cy="1455.00" r="12.6" fill="#00BF00"/>
</g>
<line x1="175.20" y1="1707.00" x2="900.00" y2="1707.00" stroke="#000" stroke-width="3.6" stroke-linecap="round"/>
<line x1="302.40" y1="1707.00" x2="302.40" y2="1723.60" stroke="#000" stroke-width="3.4" stroke-linecap="round"/>
<line x1="544.50" y1="1707.00" x2="544.50" y2="1723.60" stroke="#000" stroke-width="3.4" stroke-linecap="round"/>
<line x1="786.50" y1="1707.00" x2="786.50" y2="1723.60" stroke="#000" stroke-width="3.4" stroke-linecap="round"/>
<text transform="matrix(1,0,0,1.015,0,-26.229)" x="264.14" y="1748.60" font-size="25.3" fill="#000">control</text>
<text transform="matrix(1,0,0,1.015,0,-26.233)" x="433.49" y="1748.90" font-size="25.1" fill="#000">HPV16 E7 peptides</text>
<text transform="matrix(1,0,0,1.015,0,-26.226)" x="696.48" y="1748.40" font-size="25.3" fill="#000">Ionomycin/PMA</text>
<path d="M477.4,1593.2 V1355 H626.5 V1593.2" stroke="#000" stroke-width="2.4" fill="none" stroke-linecap="butt" stroke-linejoin="miter"/>
<path d="M544.7,1558.8 V1415.2 H626.5" stroke="#000" stroke-width="2.4" fill="none" stroke-linecap="butt" stroke-linejoin="miter"/>
<line x1="477.40" y1="1454.50" x2="544.70" y2="1454.50" stroke="#000" stroke-width="2.4" stroke-linecap="butt"/>
<text transform="matrix(1,0,0,1.015,0,-20.304)" x="537.46" y="1353.60" font-size="29" fill="#000">***</text>
<text transform="matrix(1,0,0,1.015,0,-21.795)" x="496.06" y="1453.00" font-size="29" fill="#000">***</text>
<text transform="matrix(1,0,0,1.015,0,-21.045)" x="568.21" y="1403.00" font-size="30" fill="#000">n.s.</text>
<circle cx="248.60" cy="1140.50" r="12.7" fill="#0000FF"/>
<circle cx="248.60" cy="1189.40" r="12.7" fill="#FF0000"/>
<circle cx="250.60" cy="1240.30" r="12.7" fill="#00BF00"/>
<text transform="matrix(1,0,0,1.015,0,-17.262)" x="288.74" y="1150.80" font-size="27.5" fill="#000">Luc mRNA</text>
<text transform="matrix(1,0,0,1.015,0,-17.991)" x="288.74" y="1199.40" font-size="27.5" fill="#000">HPV mRNA 20 μg</text>
<text transform="matrix(1,0,0,1.015,0,-18.750)" x="290.74" y="1250.00" font-size="27.5" fill="#000">HPV mRNA 10 μg</text>
<text transform="matrix(1,0,0,1.015,0,-17.272)" x="995.26" y="1151.50" font-size="29" font-weight="bold" fill="#000">D</text>
<line x1="1094.60" y1="1205.70" x2="1094.60" y2="1710.80" stroke="#000" stroke-width="3.4" stroke-linecap="round"/>
<line x1="1079.20" y1="1208.48" x2="1094.60" y2="1208.48" stroke="#000" stroke-width="3.4" stroke-linecap="round"/>
<text transform="matrix(1,0,0,1.015,0,-18.259)" x="1060.68" y="1217.28" font-size="26" font-weight="bold" fill="#000">4</text>
<line x1="1079.20" y1="1333.31" x2="1094.60" y2="1333.31" stroke="#000" stroke-width="3.4" stroke-linecap="round"/>
<text transform="matrix(1,0,0,1.015,0,-20.132)" x="1061.48" y="1342.11" font-size="26" font-weight="bold" fill="#000">3</text>
<line x1="1079.20" y1="1458.14" x2="1094.60" y2="1458.14" stroke="#000" stroke-width="3.4" stroke-linecap="round"/>
<text transform="matrix(1,0,0,1.015,0,-22.004)" x="1061.58" y="1466.94" font-size="26" font-weight="bold" fill="#000">2</text>
<line x1="1079.20" y1="1582.97" x2="1094.60" y2="1582.97" stroke="#000" stroke-width="3.4" stroke-linecap="round"/>
<text transform="matrix(1,0,0,1.015,0,-23.877)" x="1061.26" y="1591.77" font-size="26" font-weight="bold" fill="#000">1</text>
<line x1="1079.20" y1="1707.80" x2="1094.60" y2="1707.80" stroke="#000" stroke-width="3.4" stroke-linecap="round"/>
<text transform="matrix(1,0,0,1.015,0,-25.749)" x="1061.61" y="1716.60" font-size="26" font-weight="bold" fill="#000">0</text>
<text transform="translate(1043.5,1630.19) rotate(-90) scale(1,1.015)" x="0" y="0" font-size="26.5"><tspan dy="0">% IFNγ</tspan><tspan font-size="15.5" dy="-10.5">+</tspan><tspan dy="10.5"> CD90.2</tspan><tspan font-size="15.5" dy="-10.5">+</tspan><tspan dy="10.5"> CD4</tspan><tspan font-size="15.5" dy="-10.5">+</tspan><tspan dy="10.5"> cells</tspan></text>
<rect x="1115.25" y="1688.45" width="30.50" height="19.35" fill="#8080FF"/>
<path d="M1115.25,1707.8 V1688.45 H1145.75 V1707.8" stroke="#0000FF" stroke-width="3.5" fill="none" stroke-linecap="butt" stroke-linejoin="miter"/>
<rect x="1169.75" y="1692.75" width="30.00" height="15.05" fill="#FF8080"/>
<path d="M1169.75,1707.8 V1692.75 H1199.75 V1707.8" stroke="#FF0000" stroke-width="3.5" fill="none" stroke-linecap="butt" stroke-linejoin="miter"/>
<rect x="1259.75" y="1684.65" width="30.50" height="23.15" fill="#8080FF"/>
<path d="M1259.75,1707.8 V1684.65 H1290.25 V1707.8" stroke="#0000FF" stroke-width="3.5" fill="none" stroke-linecap="butt" stroke-linejoin="miter"/>
<rect x="1313.15" y="1654.55" width="30.70" height="53.25" fill="#FF8080"/>
<path d="M1313.15,1707.8 V1654.55 H1343.85 V1707.8" stroke="#FF0000" stroke-width="3.5" fill="none" stroke-linecap="butt" stroke-linejoin="miter"/>
<rect x="1403.55" y="1483.05" width="29.90" height="224.75" fill="#8080FF"/>
<path d="M1403.55,1707.8 V1483.05 H1433.45 V1707.8" stroke="#0000FF" stroke-width="3.5" fill="none" stroke-linecap="butt" stroke-linejoin="miter"/>
<rect x="1457.65" y="1546.35" width="29.80" height="161.45" fill="#FF8080"/>
<path d="M1457.65,1707.8 V1546.35 H1487.45 V1707.8" stroke="#FF0000" stroke-width="3.5" fill="none" stroke-linecap="butt" stroke-linejoin="miter"/>
<line x1="1418.20" y1="1447.30" x2="1418.20" y2="1515.00" stroke="#0000FF" stroke-width="3.2" stroke-linecap="butt"/>
<line x1="1410.20" y1="1447.30" x2="1426.20" y2="1447.30" stroke="#0000FF" stroke-width="3.2" stroke-linecap="round"/>
<line x1="1410.20" y1="1515.00" x2="1426.20" y2="1515.00" stroke="#0000FF" stroke-width="3.2" stroke-linecap="round"/>
<line x1="1471.80" y1="1529.00" x2="1471.80" y2="1560.00" stroke="#FF0000" stroke-width="3.2" stroke-linecap="butt"/>
<line x1="1463.80" y1="1529.00" x2="1479.80" y2="1529.00" stroke="#FF0000" stroke-width="3.2" stroke-linecap="round"/>
<line x1="1463.80" y1="1560.00" x2="1479.80" y2="1560.00" stroke="#FF0000" stroke-width="3.2" stroke-linecap="round"/>
<clipPath id="clipD"><rect x="1096" y="1150" width="420" height="556"/></clipPath>
<g clip-path="url(#clipD)">
<circle cx="1121.70" cy="1667.80" r="10.8" fill="#0000FF"/>
<circle cx="1139.60" cy="1680.60" r="10.8" fill="#0000FF"/>
<circle cx="1139.60" cy="1691.60" r="10.8" fill="#0000FF"/>
<circle cx="1121.70" cy="1699.50" r="10.8" fill="#0000FF"/>
<circle cx="1129.70" cy="1687.00" r="10.8" fill="#0000FF"/>
<circle cx="1130.00" cy="1700.00" r="10.8" fill="#0000FF"/>
<circle cx="1193.20" cy="1665.80" r="10.8" fill="#FF0000"/>
<circle cx="1183.90" cy="1673.80" r="10.8" fill="#FF0000"/>
<circle cx="1175.30" cy="1679.00" r="10.8" fill="#FF0000"/>
<circle cx="1194.50" cy="1684.30" r="10.8" fill="#FF0000"/>
<circle cx="1185.20" cy="1702.90" r="10.8" fill="#FF0000"/>
<circle cx="1178.00" cy="1700.00" r="10.8" fill="#FF0000"/>
<circle cx="1274.50" cy="1639.70" r="10.8" fill="#0000FF"/>
<circle cx="1274.50" cy="1678.60" r="10.8" fill="#0000FF"/>
<circle cx="1265.40" cy="1698.80" r="10.8" fill="#0000FF"/>
<circle cx="1283.70" cy="1691.30" r="10.8" fill="#0000FF"/>
<circle cx="1277.30" cy="1696.80" r="10.8" fill="#0000FF"/>
<circle cx="1267.40" cy="1700.80" r="10.8" fill="#0000FF"/>
<circle cx="1328.10" cy="1627.80" r="10.8" fill="#FF0000"/>
<circle cx="1337.60" cy="1635.30" r="10.8" fill="#FF0000"/>
<circle cx="1319.40" cy="1643.30" r="10.8" fill="#FF0000"/>
<circle cx="1337.20" cy="1654.80" r="10.8" fill="#FF0000"/>
<circle cx="1328.10" cy="1662.70" r="10.8" fill="#FF0000"/>
<circle cx="1328.10" cy="1681.70" r="10.8" fill="#FF0000"/>
<circle cx="1418.40" cy="1337.60" r="10.8" fill="#0000FF"/>
<circle cx="1409.40" cy="1472.10" r="10.8" fill="#0000FF"/>
<circle cx="1427.80" cy="1472.10" r="10.8" fill="#0000FF"/>
<circle cx="1409.40" cy="1506.60" r="10.8" fill="#0000FF"/>
<circle cx="1427.80" cy="1513.10" r="10.8" fill="#0000FF"/>
<circle cx="1418.40" cy="1576.80" r="10.8" fill="#0000FF"/>
<circle cx="1464.00" cy="1502.00" r="10.8" fill="#FF0000"/>
<circle cx="1481.20" cy="1498.60" r="10.8" fill="#FF0000"/>
<circle cx="1481.20" cy="1546.90" r="10.8" fill="#FF0000"/>
<circle cx="1464.00" cy="1555.60" r="10.8" fill="#FF0000"/>
<circle cx="1464.00" cy="1579.10" r="10.8" fill="#FF0000"/>
<circle cx="1481.20" cy="1577.90" r="10.8" fill="#FF0000"/>
</g>
<line x1="1077.90" y1="1707.80" x2="1515.00" y2="1707.80" stroke="#000" stroke-width="3.6" stroke-linecap="butt"/>
<line x1="1157.00" y1="1707.80" x2="1157.00" y2="1724.00" stroke="#000" stroke-width="3.4" stroke-linecap="round"/>
<line x1="1301.00" y1="1707.80" x2="1301.00" y2="1724.00" stroke="#000" stroke-width="3.4" stroke-linecap="round"/>
<line x1="1445.00" y1="1707.80" x2="1445.00" y2="1724.00" stroke="#000" stroke-width="3.4" stroke-linecap="round"/>
<text transform="matrix(1,0,0,1.015,0,-26.238)" x="1119.34" y="1749.20" font-size="25.3" fill="#000">control</text>
<text transform="matrix(1,0,0,1.015,0,-26.238)" x="1241.03" y="1749.20" font-size="25.3" fill="#000">HPV16 E7</text>
<text transform="matrix(1,0,0,1.015,0,-26.649)" x="1256.12" y="1776.60" font-size="25.3" fill="#000">peptides</text>
<text transform="matrix(1,0,0,1.015,0,-26.238)" x="1387.00" y="1749.20" font-size="25.3" fill="#000">Ionomycin</text>
<text transform="matrix(1,0,0,1.015,0,-26.649)" x="1413.50" y="1776.60" font-size="25.3" fill="#000">/PMA</text>
<circle cx="1126.40" cy="1221.20" r="10.8" fill="#0000FF"/>
<circle cx="1126.40" cy="1271.90" r="10.8" fill="#FF0000"/>
<text transform="matrix(1,0,0,1.015,0,-18.460)" x="1166.76" y="1230.70" font-size="27.3" fill="#000">Luc mRNA</text>
<text transform="matrix(1,0,0,1.015,0,-19.221)" x="1166.76" y="1281.40" font-size="27.3" fill="#000">HPV mRNA</text>
</svg>
</body></html>
